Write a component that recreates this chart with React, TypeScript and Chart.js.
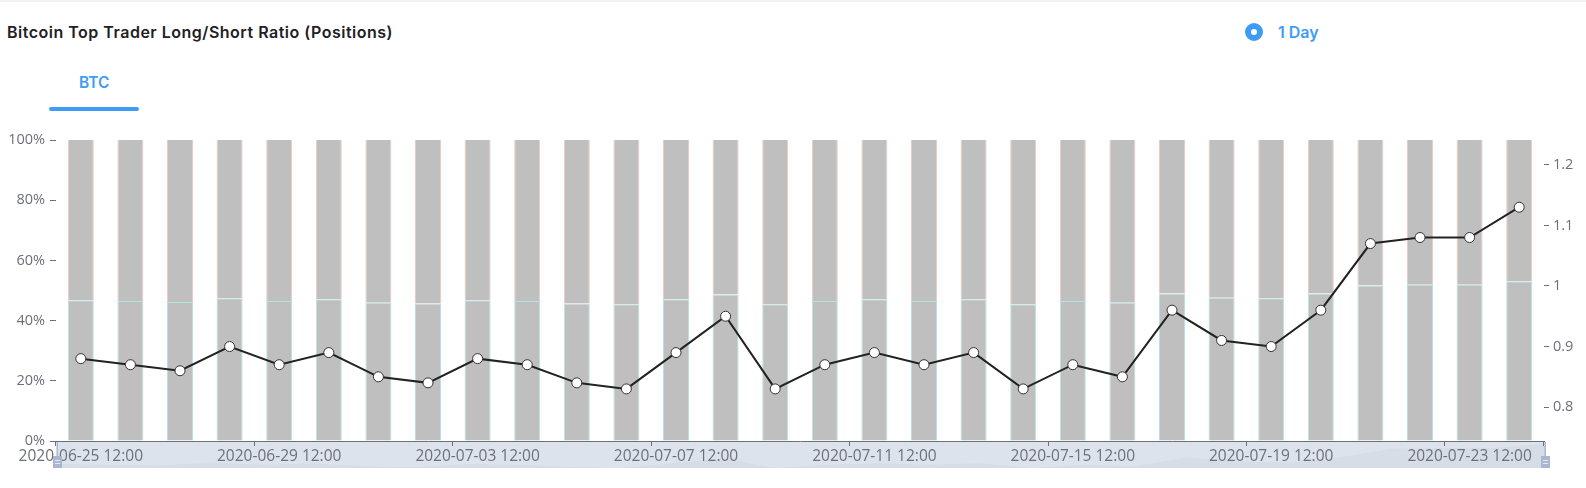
import React, { useEffect, useRef } from "react";
import { Chart, registerables } from "chart.js";

Chart.register(...registerables);

const categories = [
  "2020-06-25 12:00", "2020-06-26 12:00", "2020-06-27 12:00", "2020-06-28 12:00",
  "2020-06-29 12:00", "2020-06-30 12:00", "2020-07-01 12:00", "2020-07-02 12:00",
  "2020-07-03 12:00", "2020-07-04 12:00", "2020-07-05 12:00", "2020-07-06 12:00",
  "2020-07-07 12:00", "2020-07-08 12:00", "2020-07-09 12:00", "2020-07-10 12:00",
  "2020-07-11 12:00", "2020-07-12 12:00", "2020-07-13 12:00", "2020-07-14 12:00",
  "2020-07-15 12:00", "2020-07-16 12:00", "2020-07-17 12:00", "2020-07-18 12:00",
  "2020-07-19 12:00", "2020-07-20 12:00", "2020-07-21 12:00", "2020-07-22 12:00",
  "2020-07-23 12:00", "2020-07-24 12:00",
];

const longShortRatio = [
  0.88, 0.87, 0.86, 0.9, 0.87, 0.89, 0.85, 0.84, 0.88, 0.87,
  0.84, 0.83, 0.89, 0.95, 0.83, 0.87, 0.89, 0.87, 0.89, 0.83,
  0.87, 0.85, 0.96, 0.91, 0.9, 0.96, 1.07, 1.08, 1.08, 1.13,
];

const longPct = [
  46.8, 46.5, 46.2, 47.4, 46.5, 47.1, 45.9, 45.7, 46.8, 46.5,
  45.7, 45.4, 47.1, 48.7, 45.4, 46.5, 47.1, 46.5, 47.1, 45.4,
  46.5, 45.9, 49.0, 47.6, 47.4, 49.0, 51.7, 51.9, 51.9, 53.1,
];

const shortPct = [
  53.2, 53.5, 53.8, 52.6, 53.5, 52.9, 54.1, 54.3, 53.2, 53.5,
  54.3, 54.6, 52.9, 51.3, 54.6, 53.5, 52.9, 53.5, 52.9, 54.6,
  53.5, 54.1, 51.0, 52.4, 52.6, 51.0, 48.3, 48.1, 48.1, 46.9,
];

const percentTicks = [0, 20, 40, 60, 80, 100];
const ratioTicks = [0.8, 0.9, 1.0, 1.1, 1.2];
const ratioMin = 0.744;
const ratioMax = 1.241;
const labelEvery = 4;

const AXIS = "#6E7079";
const BLUE = "#3f9cf6";
const TICK_FONT = { family: "'Open Sans', sans-serif", size: 14.5 };
const X_FONT = { family: "'Open Sans', sans-serif", size: 15.5 };

const sliderPlugin = {
  id: "sliderZoom",
  beforeDraw(chart: any) {
    const { ctx, chartArea } = chart;
    const x0 = chartArea.left + 1;
    const x1 = chartArea.right + 1;
    const y0 = chartArea.bottom + 1;
    const y1 = chartArea.bottom + 27;
    ctx.save();
    ctx.fillStyle = "#dde3ed";
    ctx.fillRect(x0, y0, x1 - x0, y1 - y0);
    const data = longShortRatio;
    const mn = Math.min(...data);
    const mx = Math.max(...data);
    const h = y1 - y0;
    ctx.beginPath();
    data.forEach((v, i) => {
      const x = x0 + (i / (data.length - 1)) * (x1 - x0);
      const y = y1 - ((v - mn) / (mx - mn)) * (h - 2);
      if (i === 0) ctx.moveTo(x, y);
      else ctx.lineTo(x, y);
    });
    ctx.lineTo(x1, y1);
    ctx.lineTo(x0, y1);
    ctx.closePath();
    ctx.fillStyle = "rgba(47,69,84,0.035)";
    ctx.fill();
    ctx.restore();
  },
  afterDraw(chart: any) {
    const { ctx, chartArea } = chart;
    const y0 = chartArea.bottom + 1;
    const y1 = chartArea.bottom + 27;
    ctx.save();
    [chartArea.left + 1, chartArea.right + 1].forEach((x) => {
      ctx.fillStyle = "#a9b8d0";
      ctx.fillRect(x - 0.5, y0, 1.5, y1 - y0);
      ctx.fillRect(x - 4, y1 - 12, 9, 12);
      ctx.fillStyle = "#e6ebf3";
      ctx.fillRect(x - 2, y1 - 8, 5, 1);
      ctx.fillRect(x - 2, y1 - 5, 5, 1);
    });
    ctx.restore();
  },
};

function ChartView() {
  const canvasRef = useRef<HTMLCanvasElement | null>(null);

  useEffect(() => {
    if (!canvasRef.current) return;
    const chart = new Chart(canvasRef.current, {
      type: "bar",
      data: {
        labels: categories,
        datasets: [
          {
            type: "line",
            label: "Long/Short Ratio",
            data: longShortRatio,
            yAxisID: "y1",
            borderColor: "#222",
            borderWidth: 2,
            pointRadius: 5,
            pointBackgroundColor: "#fff",
            pointBorderColor: "#333",
            pointBorderWidth: 1,
            tension: 0,
            order: 0,
          } as any,
          {
            label: "Long",
            data: longPct,
            yAxisID: "y",
            backgroundColor: "#bfbfbf",
            borderColor: "#b2e4df",
            borderWidth: { left: 1, right: 1, top: 1, bottom: 0 },
            borderSkipped: false,
            barPercentage: 0.524,
            categoryPercentage: 1,
            order: 1,
          } as any,
          {
            label: "Short",
            data: shortPct,
            yAxisID: "y",
            backgroundColor: "#bfbfbf",
            borderColor: "#f2c6c2",
            borderWidth: { left: 1, right: 1, top: 0, bottom: 0 },
            borderSkipped: false,
            barPercentage: 0.524,
            categoryPercentage: 1,
            order: 1,
          } as any,
        ],
      },
      options: {
        animation: false,
        responsive: true,
        maintainAspectRatio: false,
        layout: { padding: { top: 20, left: 0, right: 0, bottom: 0 } },
        plugins: {
          legend: { display: false },
          tooltip: { enabled: false },
        },
        scales: {
          x: {
            type: "category",
            offset: true,
            stacked: true,
            grid: {
              offset: true,
              drawOnChartArea: false,
              drawTicks: true,
              tickLength: 5,
              color: (c: any) =>
                c.index === undefined || c.index % labelEvery === 0 ? AXIS : "rgba(0,0,0,0)",
            },
            border: { display: true, color: AXIS, width: 1 },
            ticks: {
              autoSkip: false,
              maxRotation: 0,
              minRotation: 0,
              padding: 1,
              color: AXIS,
              font: X_FONT,
              callback: (_v: any, i: number) => (i % labelEvery === 0 ? categories[i] : ""),
            },
            afterFit: (s: any) => {
              s.height = 47;
            },
          },
          y: {
            position: "left",
            stacked: true,
            min: 0,
            max: 100,
            grid: { drawOnChartArea: false, drawTicks: true, tickLength: 6, color: AXIS },
            border: { display: false },
            ticks: {
              color: AXIS,
              font: TICK_FONT,
              padding: 5,
              callback: (v: any) => v + "%",
            },
            afterBuildTicks: (s: any) => {
              s.ticks = percentTicks.map((v) => ({ value: v }));
            },
            afterFit: (s: any) => {
              s.width = 56;
            },
          },
          y1: {
            position: "right",
            min: ratioMin,
            max: ratioMax,
            grid: { drawOnChartArea: false, drawTicks: true, tickLength: 5, color: AXIS },
            border: { display: false },
            ticks: {
              color: AXIS,
              font: TICK_FONT,
              padding: 4,
              callback: (v: any) => String(Number(Number(v).toFixed(1))),
            },
            afterBuildTicks: (s: any) => {
              s.ticks = ratioTicks.map((v) => ({ value: v }));
            },
            afterFit: (s: any) => {
              s.width = 42;
            },
          },
        },
      } as any,
      plugins: [sliderPlugin],
    });
    return () => chart.destroy();
  }, []);

  return <canvas ref={canvasRef} />;
}

export default function App() {
  return (
    <div
      style={{
        position: "fixed",
        left: 0,
        top: 0,
        width: 1586,
        height: 488,
        background: "#fff",
        overflow: "hidden",
        fontFamily: "Inter, 'Noto Sans', sans-serif",
      }}
    >
      <div style={{ position: "absolute", left: 0, top: 0, width: 1586, height: 2, background: "#f1f1f1" }} />
      <div
        style={{
          position: "absolute",
          left: 7,
          top: 20,
          height: 24,
          lineHeight: "24px",
          fontSize: 16,
          letterSpacing: 0.5,
          fontWeight: 600,
          color: "#1e2026",
          whiteSpace: "nowrap",
        }}
      >
        Bitcoin Top Trader Long/Short Ratio (Positions)
      </div>
      <div
        style={{
          position: "absolute",
          left: 1245,
          top: 23,
          width: 6,
          height: 6,
          borderRadius: "50%",
          border: "6px solid " + BLUE,
          background: "#fff",
        }}
      />
      <div
        style={{
          position: "absolute",
          left: 1278,
          top: 21,
          height: 22,
          lineHeight: "22px",
          fontSize: 16,
          fontWeight: 600,
          color: BLUE,
          whiteSpace: "nowrap",
        }}
      >
        1 Day
      </div>
      <div
        style={{
          position: "absolute",
          left: 79,
          top: 72,
          height: 22,
          lineHeight: "22px",
          fontSize: 15.5,
          fontWeight: 600,
          color: BLUE,
          whiteSpace: "nowrap",
        }}
      >
        BTC
      </div>
      <div
        style={{
          position: "absolute",
          left: 49,
          top: 107,
          width: 90,
          height: 4,
          borderRadius: 2,
          background: BLUE,
        }}
      />
      <div style={{ position: "absolute", left: 0, top: 120, width: 1586, height: 368 }}>
        <ChartView />
      </div>
    </div>
  );
}
